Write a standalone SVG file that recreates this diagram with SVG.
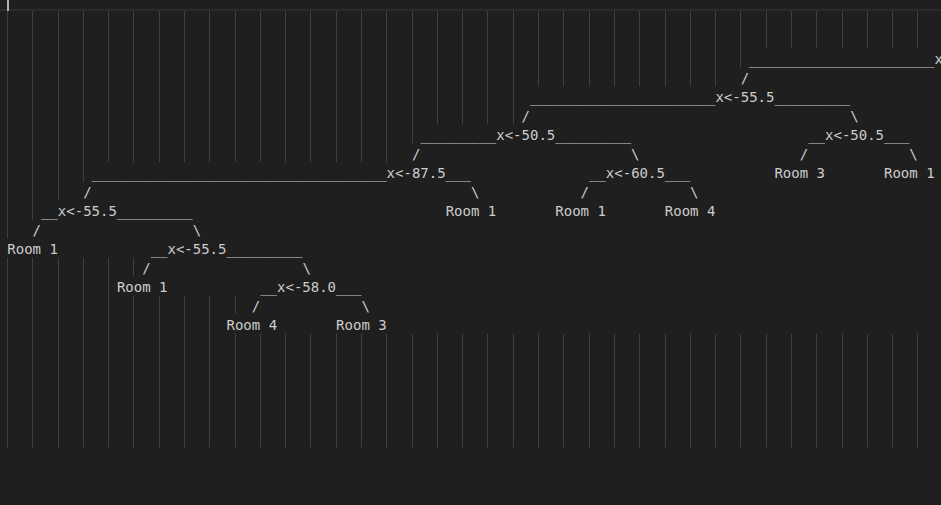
<svg xmlns="http://www.w3.org/2000/svg" width="941" height="505" viewBox="0 0 941 505">
<style>
.t{font-family:"DejaVu Sans Mono","Liberation Mono",monospace;font-size:14px;fill:#cccccc;white-space:pre}
.g{stroke:#404040;stroke-width:1;fill:none}
</style>
<rect x="0" y="0" width="941" height="505" fill="#1f1f1f"/>
<rect x="0" y="9" width="941" height="2" fill="#2b2b2b"/>
<rect x="7" y="0" width="2" height="11" fill="#aeafad"/>
<g id="indent-guides">
<path class="g" d="M7.5 11V238.5M32.5 11V219.5M58.5 11V200.5M83.5 11V181.5
M108.5 11V162.5M133.5 11V162.5M159.5 11V162.5M184.5 11V162.5M209.5 11V162.5M235.5 11V162.5M260.5 11V162.5M285.5 11V162.5M310.5 11V162.5M336.5 11V162.5M361.5 11V162.5M386.5 11V162.5
M412.5 11V143.5
M437.5 11V124.5M462.5 11V124.5M487.5 11V124.5M513.5 11V124.5
M538.5 11V86.5M563.5 11V86.5M589.5 11V86.5M614.5 11V86.5M639.5 11V86.5M665.5 11V86.5M690.5 11V86.5M715.5 11V86.5
M740.5 11V67.5
M766.5 11V48.5M791.5 11V48.5M816.5 11V48.5M842.5 11V48.5M867.5 11V48.5M892.5 11V48.5M917.5 11V48.5
M7.5 257.5V447.5M32.5 257.5V447.5M58.5 257.5V447.5M83.5 257.5V447.5M108.5 257.5V447.5
M133.5 257.5V276.5M133.5 295.5V447.5
M159.5 295.5V447.5M184.5 295.5V447.5M209.5 295.5V447.5
M235.5 295.5V314.5M235.5 333.5V447.5
M260.5 333.5V447.5M285.5 333.5V447.5M310.5 333.5V447.5M336.5 333.5V447.5M361.5 333.5V447.5M386.5 333.5V447.5M412.5 333.5V447.5M437.5 333.5V447.5M462.5 333.5V447.5M487.5 333.5V447.5M513.5 333.5V447.5M538.5 333.5V447.5M563.5 333.5V447.5M589.5 333.5V447.5M614.5 333.5V447.5M639.5 333.5V447.5M665.5 333.5V447.5M690.5 333.5V447.5M715.5 333.5V447.5M740.5 333.5V447.5M766.5 333.5V447.5M791.5 333.5V447.5M816.5 333.5V447.5M842.5 333.5V447.5M867.5 333.5V447.5M892.5 333.5V447.5M917.5 333.5V447.5"/>
</g>
<g id="n-root"><text class="t" x="749.1" y="63.5">______________________x</text></g>
<g id="n-a"><text class="t" x="530.0" y="101.5">______________________x&lt;-55.5_________</text></g>
<g id="n-b"><text class="t" x="420.4" y="139.5">_________x&lt;-50.5_________</text></g>
<g id="n-c"><text class="t" x="808.2" y="139.5">__x&lt;-50.5___</text></g>
<g id="n-d"><text class="t" x="91.6" y="177.5">___________________________________x&lt;-87.5___</text></g>
<g id="n-e"><text class="t" x="589.0" y="177.5">__x&lt;-60.5___</text></g>
<g id="leaf-c-l"><text class="t" x="774.4" y="177.5">Room 3</text></g>
<g id="leaf-c-r"><text class="t" x="884.0" y="177.5">Room 1</text></g>
<g id="n-f"><text class="t" x="41.0" y="215.5">__x&lt;-55.5_________</text></g>
<g id="leaf-d-r"><text class="t" x="445.7" y="215.5">Room 1</text></g>
<g id="leaf-e-l"><text class="t" x="555.3" y="215.5">Room 1</text></g>
<g id="leaf-e-r"><text class="t" x="664.8" y="215.5">Room 4</text></g>
<g id="leaf-f-l"><text class="t" x="7.3" y="253.5">Room 1</text></g>
<g id="n-g"><text class="t" x="150.6" y="253.5">__x&lt;-55.5_________</text></g>
<g id="leaf-g-l"><text class="t" x="116.9" y="291.5">Room 1</text></g>
<g id="n-h"><text class="t" x="260.2" y="291.5">__x&lt;-58.0___</text></g>
<g id="leaf-h-l"><text class="t" x="226.5" y="329.5">Room 4</text></g>
<g id="leaf-h-r"><text class="t" x="336.1" y="329.5">Room 3</text></g>
<g id="connectors">
<text class="t" x="740.7" y="82.5">/</text>
<text class="t" x="521.5" y="120.5">/</text>
<text class="t" x="850.3" y="120.5">\</text>
<text class="t" x="411.9" y="158.5">/</text>
<text class="t" x="631.1" y="158.5">\</text>
<text class="t" x="799.7" y="158.5">/</text>
<text class="t" x="909.3" y="158.5">\</text>
<text class="t" x="83.2" y="196.5">/</text>
<text class="t" x="471.0" y="196.5">\</text>
<text class="t" x="580.5" y="196.5">/</text>
<text class="t" x="690.1" y="196.5">\</text>
<text class="t" x="32.6" y="234.5">/</text>
<text class="t" x="192.8" y="234.5">\</text>
<text class="t" x="142.2" y="272.5">/</text>
<text class="t" x="302.4" y="272.5">\</text>
<text class="t" x="251.8" y="310.5">/</text>
<text class="t" x="361.4" y="310.5">\</text>
</g>
</svg>
